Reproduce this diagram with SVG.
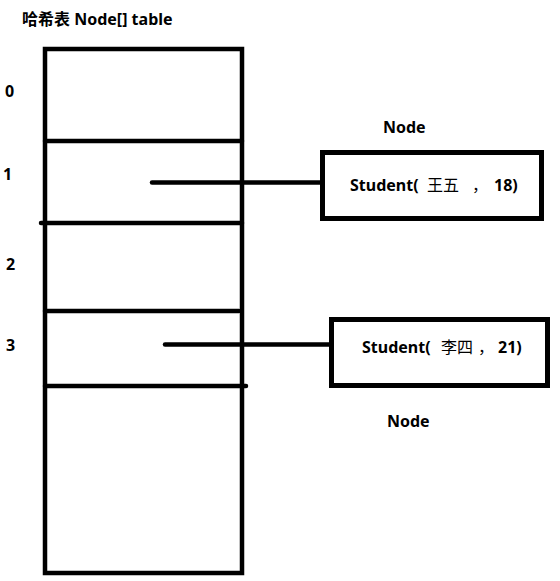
<svg xmlns="http://www.w3.org/2000/svg" width="560" height="581" viewBox="0 0 560 581">
<style>
.ln{stroke:#000;stroke-width:4.5;fill:none;stroke-linecap:round}
.bx{stroke:#000;stroke-width:5;fill:#fff}
text{font-family:"Noto Sans","Noto Sans CJK SC",sans-serif;font-weight:bold;font-size:16px;fill:#000;white-space:pre}
.cjk{font-weight:normal}
</style>
<rect width="560" height="581" fill="#fff"/>
<text x="22" y="25"><tspan class="cjk" style="font-weight:bold">哈希表</tspan> Node[] table</text>
<g id="table">
<rect x="45" y="49" width="197" height="524" class="ln" style="stroke-linecap:butt"/>
<line x1="45" y1="141" x2="242" y2="141" class="ln"/>
<line x1="41" y1="223" x2="242" y2="223" class="ln"/>
<line x1="45" y1="311" x2="239" y2="311" class="ln"/>
<line x1="45" y1="386" x2="246" y2="386" class="ln"/>
<text x="5" y="97">0</text>
<text x="3" y="180">1</text>
<text x="6" y="270">2</text>
<text x="6" y="351">3</text>
</g>
<g id="connectors">
<line x1="152" y1="182.5" x2="322" y2="182.5" class="ln"/>
<line x1="165" y1="344.5" x2="331" y2="344.5" class="ln"/>
</g>
<g id="node1">
<rect x="322.5" y="152.5" width="219" height="66" class="bx"/>
<text x="383" y="133">Node</text>
<text x="350" y="191">Student(<tspan x="427" class="cjk">王五</tspan><tspan x="472" class="cjk">，</tspan><tspan x="494">18)</tspan></text>
</g>
<g id="node2">
<rect x="331.5" y="319.5" width="216" height="66" class="bx"/>
<text x="362" y="353">Student(<tspan x="441" class="cjk">李四</tspan><tspan x="478" class="cjk">，</tspan><tspan x="498">21)</tspan></text>
<text x="387" y="427">Node</text>
</g>
</svg>
